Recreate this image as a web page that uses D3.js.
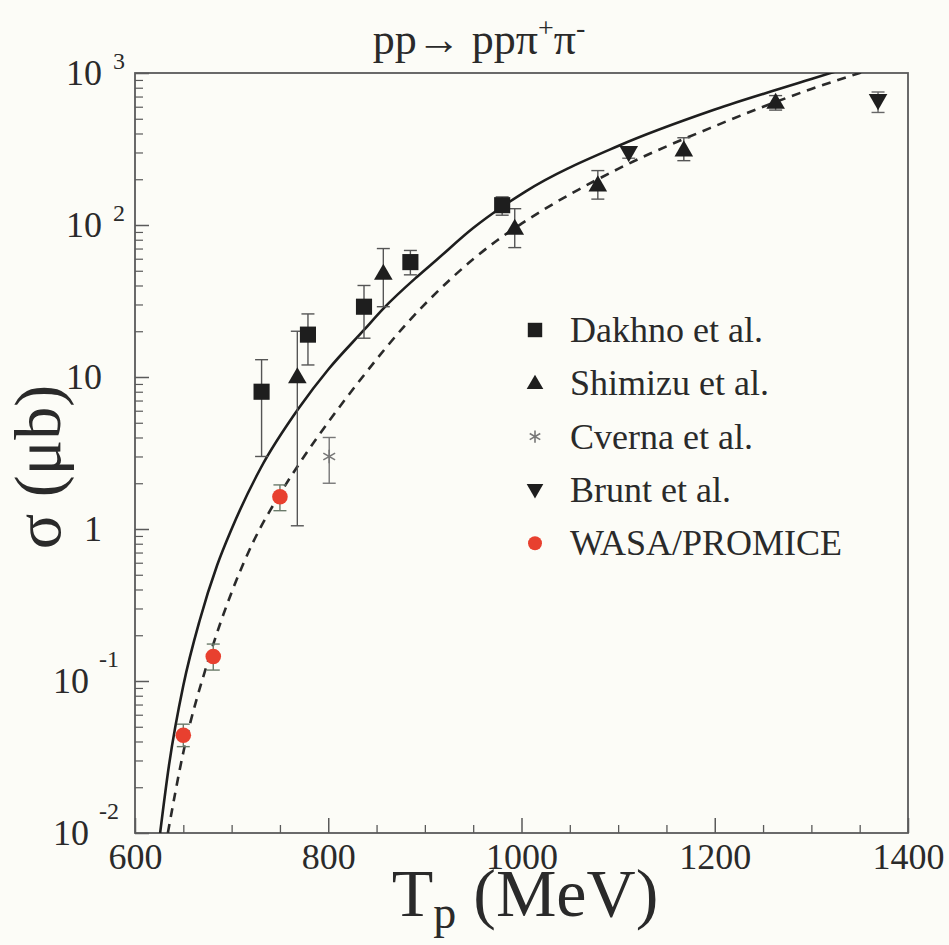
<!DOCTYPE html>
<html>
<head>
<meta charset="utf-8">
<script src="https://cdn.jsdelivr.net/npm/d3@7"></script>
<style>
  html, body { margin: 0; padding: 0; background: #fcfcf7; }
  svg { display: block; font-family: "Liberation Serif", "Times New Roman", serif; }
</style>
</head>
<body>
<svg id="chart" width="949" height="945"></svg>
<script>
// ---- Measured total cross sections, pp -> pp pi+ pi- ----
const dakhnoT     = [731, 779, 837, 885, 980];
const dakhnoSigma = [8, 19, 29, 57, 135];
const dakhnoLo    = [3, 12, 18, 47, 116];
const dakhnoHi    = [13, 26, 40, 68, 153];

const shimizuT     = [768, 857, 993, 1079, 1168, 1263];
const shimizuSigma = [10, 48, 95, 183, 311, 640];
const shimizuLo    = [1.05, 29, 71, 148, 265, 570];
const shimizuHi    = [20, 70, 128, 228, 375, 710];

const cvernaT     = [801];
const cvernaSigma = [3];
const cvernaLo    = [2];
const cvernaHi    = [4];

const bruntT     = [1111, 1369];
const bruntSigma = [300, 660];
const bruntLo    = [275, 550];
const bruntHi    = [325, 750];

const wasaT     = [650, 681, 750];
const wasaSigma = [0.044, 0.145, 1.63];
const wasaLo    = [0.037, 0.118, 1.32];
const wasaHi    = [0.052, 0.175, 1.95];

// ---- Model calculations ----
const solidT     = [626, 635, 650, 667, 685, 700, 730, 770, 800, 837, 857, 892, 912, 950, 980, 1004, 1100, 1200, 1300, 1330];
const solidSigma = [0.01, 0.0274, 0.0933, 0.251, 0.577, 1.0, 2.51, 6.3, 11.2, 20.4, 28.2, 45.7, 58.9, 95.5, 131.8, 166, 331, 575, 912, 1047];

const dashedT     = [634, 650, 676, 701, 722, 750, 771, 802, 833, 881, 926, 975, 1000, 1100, 1200, 1300, 1350, 1362];
const dashedSigma = [0.01, 0.0339, 0.138, 0.398, 0.813, 1.70, 2.75, 5.25, 9.55, 22.4, 43.7, 79.4, 102, 234, 447, 785, 1000, 1059];

// ---- Axes ----
const xTickValues  = [600, 800, 1000, 1200, 1400];
const xMinorValues = [650, 700, 750, 850, 900, 950, 1050, 1100, 1150, 1250, 1300, 1350];
const yTickValues  = [0.01, 0.1, 1, 10, 100, 1000];
const yTickBase    = ["10", "10", "1", "10", "10", "10"];
const yTickExp     = ["-2", "-1", "", "", "2", "3"];

const legendNames = ["Dakhno et al.", "Shimizu et al.", "Cverna et al.", "Brunt et al.", "WASA/PROMICE"];

const ink = "#1e1e1e";
const textCol = "#2a2a2a";
const axisCol = "#5a5a5a";
const red = "#e8402f";

const svg = d3.select("#chart");
const L = 135, R = 908, T = 73, B = 833;

const x = d3.scaleLinear().domain([600, 1400]).range([L, R]);
const y = d3.scaleLog().domain([0.01, 1000]).range([B, T]);

svg.append("rect").attr("width", 949).attr("height", 945).attr("fill", "#fcfcf7");

svg.append("defs").append("clipPath").attr("id", "plotClip")
  .append("rect").attr("x", L).attr("y", T).attr("width", R - L).attr("height", B - T);

// frame
svg.append("rect")
  .attr("x", L).attr("y", T).attr("width", R - L).attr("height", B - T)
  .attr("fill", "none").attr("stroke", axisCol).attr("stroke-width", 1.8);

// x axis: major ticks pointing inward, labels below
const xAxis = d3.axisBottom(x).tickValues(xTickValues).tickSizeInner(-15).tickSizeOuter(0).tickPadding(10)
  .tickFormat(d3.format("d"));
const gx = svg.append("g").attr("transform", `translate(0,${B})`).call(xAxis);
gx.select(".domain").remove();
gx.selectAll(".tick line").attr("stroke", axisCol).attr("stroke-width", 1.5);
gx.selectAll(".tick text").attr("fill", textCol).attr("font-size", 36)
  .attr("font-family", "Liberation Serif, Times New Roman, serif");

// x minor ticks
const gxm = svg.append("g").attr("transform", `translate(0,${B})`)
  .call(d3.axisBottom(x).tickValues(xMinorValues).tickSizeInner(-8).tickSizeOuter(0).tickFormat(""));
gxm.select(".domain").remove();
gxm.selectAll(".tick line").attr("stroke", axisCol).attr("stroke-width", 1.3);

// y axis: major and minor ticks pointing inward
const yMinor = y.ticks().filter(v => !yTickValues.some(t => Math.abs(t - v) / v < 1e-6));
const gy = svg.append("g").attr("transform", `translate(${L},0)`)
  .call(d3.axisLeft(y).tickValues(yTickValues).tickSizeInner(-14).tickSizeOuter(0).tickFormat(""));
gy.select(".domain").remove();
gy.selectAll(".tick line").attr("stroke", axisCol).attr("stroke-width", 1.5);
const gym = svg.append("g").attr("transform", `translate(${L},0)`)
  .call(d3.axisLeft(y).tickValues(yMinor).tickSizeInner(-8).tickSizeOuter(0).tickFormat(""));
gym.select(".domain").remove();
gym.selectAll(".tick line").attr("stroke", axisCol).attr("stroke-width", 1.2);

// y tick labels (powers of ten)
yTickValues.forEach((v, i) => {
  const ty = y(v);
  const exp = yTickExp[i];
  const neg = exp.startsWith("-");
  const baseRight = neg ? 89 : 102;
  svg.append("text")
    .attr("x", baseRight).attr("y", ty + 12)
    .attr("text-anchor", "end").attr("font-size", 36).attr("fill", textCol)
    .text(yTickBase[i]);
  if (exp) {
    svg.append("text")
      .attr("x", neg ? 99 : 113).attr("y", neg ? ty - 14 : ty - 4)
      .attr("text-anchor", "start").attr("font-size", 24).attr("fill", textCol)
      .text(exp);
  }
});

// title
const title = svg.append("text").attr("x", 479).attr("y", 54)
  .attr("text-anchor", "middle").attr("font-size", 44).attr("fill", textCol);
title.append("tspan").text("pp\u2192 pp\u03c0");
title.append("tspan").attr("dy", -17).attr("font-size", 28).text("+");
title.append("tspan").attr("dy", 17).text("\u03c0");
title.append("tspan").attr("dy", -17).attr("font-size", 28).text("-");

// axis titles
const xt = svg.append("text").attr("x", 525).attr("y", 916)
  .attr("text-anchor", "middle").attr("font-size", 68).attr("fill", textCol);
xt.append("tspan").text("T");
xt.append("tspan").attr("dy", 12).attr("font-size", 46).text("p");
xt.append("tspan").attr("dy", -12).text(" (MeV)");

svg.append("text")
  .attr("transform", "translate(60,467) rotate(-90)")
  .attr("text-anchor", "middle").attr("font-size", 66).attr("fill", textCol)
  .text("\u03c3 (\u03bcb)");

// model curves
const plot = svg.append("g").attr("clip-path", "url(#plotClip)");
const line = d3.line().x(d => x(d[0])).y(d => y(d[1])).curve(d3.curveMonotoneX);
plot.append("path")
  .datum(d3.zip(solidT, solidSigma))
  .attr("d", line).attr("fill", "none").attr("stroke", ink).attr("stroke-width", 2.6);
plot.append("path")
  .datum(d3.zip(dashedT, dashedSigma))
  .attr("d", line).attr("fill", "none").attr("stroke", textCol).attr("stroke-width", 2.6)
  .attr("stroke-dasharray", "9,7");

// error bars
function errorBars(ts, lo, hi, color) {
  const g = svg.append("g").attr("stroke", color).attr("stroke-width", 1.4).attr("fill", "none");
  ts.forEach((t, i) => {
    const cx = x(t), y0 = y(lo[i]), y1 = y(hi[i]);
    g.append("line").attr("x1", cx).attr("x2", cx).attr("y1", y0).attr("y2", y1);
    g.append("line").attr("x1", cx - 6.5).attr("x2", cx + 6.5).attr("y1", y0).attr("y2", y0);
    g.append("line").attr("x1", cx - 6.5).attr("x2", cx + 6.5).attr("y1", y1).attr("y2", y1);
  });
}
errorBars(dakhnoT, dakhnoLo, dakhnoHi, "#555");
errorBars(shimizuT, shimizuLo, shimizuHi, "#555");
errorBars(cvernaT, cvernaLo, cvernaHi, "#777");
errorBars(bruntT, bruntLo, bruntHi, "#666");
errorBars(wasaT, wasaLo, wasaHi, "#6a7a6a");

// markers
function makeDrawers(scale) {
  const square = d3.symbol().type(d3.symbolSquare).size(260 * scale);
  const tri = d3.symbol().type(d3.symbolTriangle).size(150 * scale);
  const star = d3.symbol().type(d3.symbolAsterisk).size(130 * scale);
  return [
    (g, cx, cy) => g.append("path").attr("d", square()).attr("transform", `translate(${cx},${cy})`).attr("fill", ink),
    (g, cx, cy) => g.append("path").attr("d", tri()).attr("transform", `translate(${cx},${cy + 1})`).attr("fill", ink),
    (g, cx, cy) => g.append("path").attr("d", star()).attr("transform", `translate(${cx},${cy})`).attr("fill", "none").attr("stroke", "#777").attr("stroke-width", 1.6),
    (g, cx, cy) => g.append("path").attr("d", tri()).attr("transform", `translate(${cx},${cy - 1}) rotate(180)`).attr("fill", ink),
    (g, cx, cy) => g.append("circle").attr("cx", cx).attr("cy", cy).attr("r", 7.8 * Math.sqrt(scale)).attr("fill", red)
  ];
}
const plotDraw = makeDrawers(1);
function markers(ts, vals, draw) {
  ts.forEach((t, i) => draw(svg, x(t), y(vals[i])));
}
markers(dakhnoT, dakhnoSigma, plotDraw[0]);
markers(shimizuT, shimizuSigma, plotDraw[1]);
markers(cvernaT, cvernaSigma, plotDraw[2]);
markers(bruntT, bruntSigma, plotDraw[3]);
markers(wasaT, wasaSigma, plotDraw[4]);

// legend
const legendDraw = makeDrawers(0.8);
const legendX = 535, legendY0 = 330, legendStep = 53.3;
legendNames.forEach((name, i) => {
  const cy = legendY0 + i * legendStep;
  legendDraw[i](svg, legendX, cy);
  svg.append("text").attr("x", 570).attr("y", cy + 12)
    .attr("font-size", 36).attr("fill", textCol).text(name);
});
</script>
</body>
</html>
